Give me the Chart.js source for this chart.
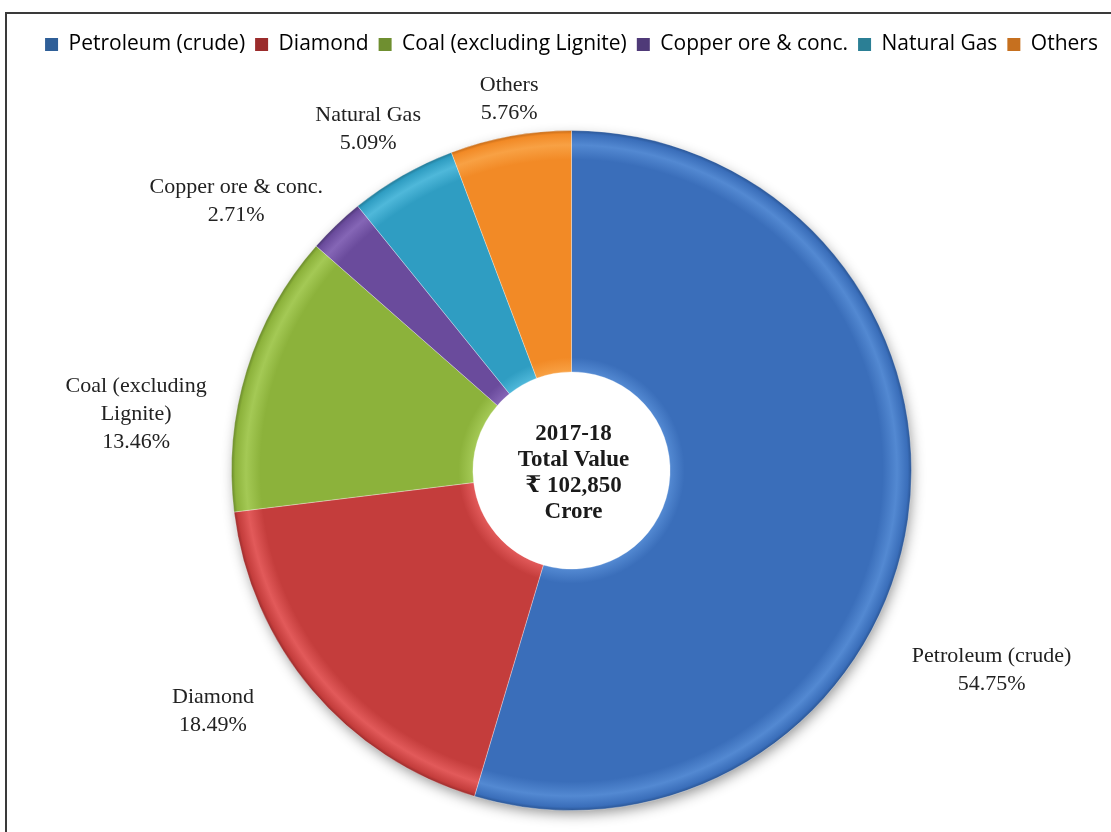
<!DOCTYPE html>
<html lang="en">
<head>
    <title>Value of mineral production 2017-18</title>
    <meta charset="UTF-8">
    <script src="https://cdn.jsdelivr.net/npm/chart.js"></script>
    <style>
        html, body {
            margin: 0;
            padding: 0;
            background: #fff;
            overflow: hidden;
            width: 1111px;
            height: 832px;
        }

        .frame {
            position: absolute;
            left: 5px;
            top: 12px;
            width: 1120px;
            height: 900px;
            border: 2px solid #3a3a3a;
        }

        .chart-box {
            position: absolute;
            left: 16px;
            top: 0;
            width: 1111px;
            height: 900px;
        }
    </style>
</head>

<body>
<div class="frame"></div>
<div class="chart-box">
    <canvas id="mineralPie" width="1111" height="900"></canvas>
</div>

<script>
    // data
    const categories = ['Petroleum (crude)', 'Diamond', 'Coal (excluding Lignite)', 'Copper ore & conc.', 'Natural Gas', 'Others'];
    const labelLines = [['Petroleum (crude)'], ['Diamond'], ['Coal (excluding', 'Lignite)'], ['Copper ore & conc.'], ['Natural Gas'], ['Others']];
    const shares = [54.75, 18.49, 13.46, 2.71, 5.09, 5.76];
    const centerLines = ['2017-18', 'Total Value', '\u20B9 102,850', 'Crore'];

    const baseColors = ['#3a6eba', '#c43d3c', '#8cb23b', '#6a4b9c', '#2f9dc2', '#f28a26'];
    const lightColors = ['#5389d2', '#e25a5a', '#a4c955', '#8566b6', '#4fb8da', '#f8a144'];
    const darkColors = ['#2a5594', '#992c2c', '#6a892b', '#4c3774', '#237894', '#c46a17'];
    const legendColors = ['#2f5f98', '#9b2c2c', '#6f8f30', '#4f3a78', '#2b7f95', '#c6701f'];

    const serif = '"Liberation Serif", "DejaVu Serif", "Noto Sans", serif';
    const outerR = 340;
    const holeRatio = 0.29;

    // radial bevel look for every slice
    function sliceFill(context) {
        const chart = context.chart;
        const i = context.dataIndex;
        const area = chart.chartArea;
        if (!area) {
            return baseColors[i];
        }
        const cx = (area.left + area.right) / 2;
        const cy = (area.top + area.bottom) / 2;
        const g = chart.ctx.createRadialGradient(cx, cy, outerR * holeRatio, cx, cy, outerR);
        g.addColorStop(0, lightColors[i]);
        g.addColorStop(0.06, baseColors[i]);
        g.addColorStop(0.88, baseColors[i]);
        g.addColorStop(0.94, lightColors[i]);
        g.addColorStop(0.985, baseColors[i]);
        g.addColorStop(1, darkColors[i]);
        return g;
    }

    const pieShadow = {
        id: 'pieShadow',
        beforeDatasetsDraw(chart) {
            const arc = chart.getDatasetMeta(0).data[0];
            if (!arc) return;
            const ctx = chart.ctx;
            ctx.save();
            ctx.shadowColor = 'rgba(0,0,0,0.45)';
            ctx.shadowBlur = 14;
            ctx.shadowOffsetX = 2;
            ctx.shadowOffsetY = 5;
            ctx.fillStyle = '#ffffff';
            ctx.beginPath();
            ctx.arc(arc.x, arc.y, arc.outerRadius - 2, 0, Math.PI * 2);
            ctx.fill();
            ctx.restore();
        }
    };

    // "best fit" style labels outside the slices
    const outsideLabels = {
        id: 'outsideLabels',
        afterDatasetsDraw(chart, args, opts) {
            const ctx = chart.ctx;
            const arcs = chart.getDatasetMeta(0).data;
            ctx.save();
            ctx.font = opts.font;
            ctx.fillStyle = opts.color;
            ctx.textAlign = 'center';
            ctx.textBaseline = 'middle';
            arcs.forEach((arc, i) => {
                const mid = (arc.startAngle + arc.endAngle) / 2 + opts.nudge[i] * Math.PI / 180;
                const d = arc.outerRadius + opts.gap[i];
                const x = arc.x + d * Math.cos(mid);
                const y = arc.y + d * Math.sin(mid);
                const lines = labelLines[i].concat([shares[i].toFixed(2) + '%']);
                const top = y - (lines.length - 1) * opts.lineHeight / 2;
                lines.forEach((t, k) => ctx.fillText(t, x, top + k * opts.lineHeight));
            });

            // text in the hole
            const a = arcs[0];
            ctx.font = 'bold 23px ' + serif;
            ctx.fillStyle = '#1a1a1a';
            const top = a.y + 3 - (centerLines.length - 1) * 26 / 2;
            centerLines.forEach((t, k) => ctx.fillText(t, a.x + 2, top + k * 26));
            ctx.restore();
        }
    };

    const ctx = document.getElementById('mineralPie').getContext('2d');
    new Chart(ctx, {
        type: 'doughnut',
        data: {
            labels: categories,
            datasets: [{
                data: shares,
                backgroundColor: sliceFill,
                borderColor: 'rgba(255,255,255,0.3)',
                borderWidth: 1
            }]
        },
        options: {
            responsive: false,
            animation: false,
            cutout: (holeRatio * 100) + '%',
            radius: outerR,
            layout: {
                padding: {top: 24, bottom: 24}
            },
            plugins: {
                tooltip: {enabled: false},
                legend: {
                    position: 'top',
                    labels: {
                        color: '#333',
                        font: {family: '"Open Sans", "DejaVu Sans", sans-serif', size: 21},
                        boxWidth: 13,
                        boxHeight: 13,
                        padding: 10,
                        generateLabels(chart) {
                            return categories.map((c, i) => ({
                                text: c,
                                fillStyle: legendColors[i],
                                strokeStyle: legendColors[i],
                                lineWidth: 0,
                                index: i,
                                hidden: false
                            }));
                        }
                    }
                },
                outsideLabels: {
                    font: '22px ' + serif,
                    color: '#222',
                    lineHeight: 28,
                    nudge: [17.1, 6.3, -9.8, -7.4, -1.0, 0.8],
                    gap: [125, 92, 99, 90, 57, 36]
                }
            }
        },
        plugins: [pieShadow, outsideLabels]
    });
</script>
</body>
</html>
